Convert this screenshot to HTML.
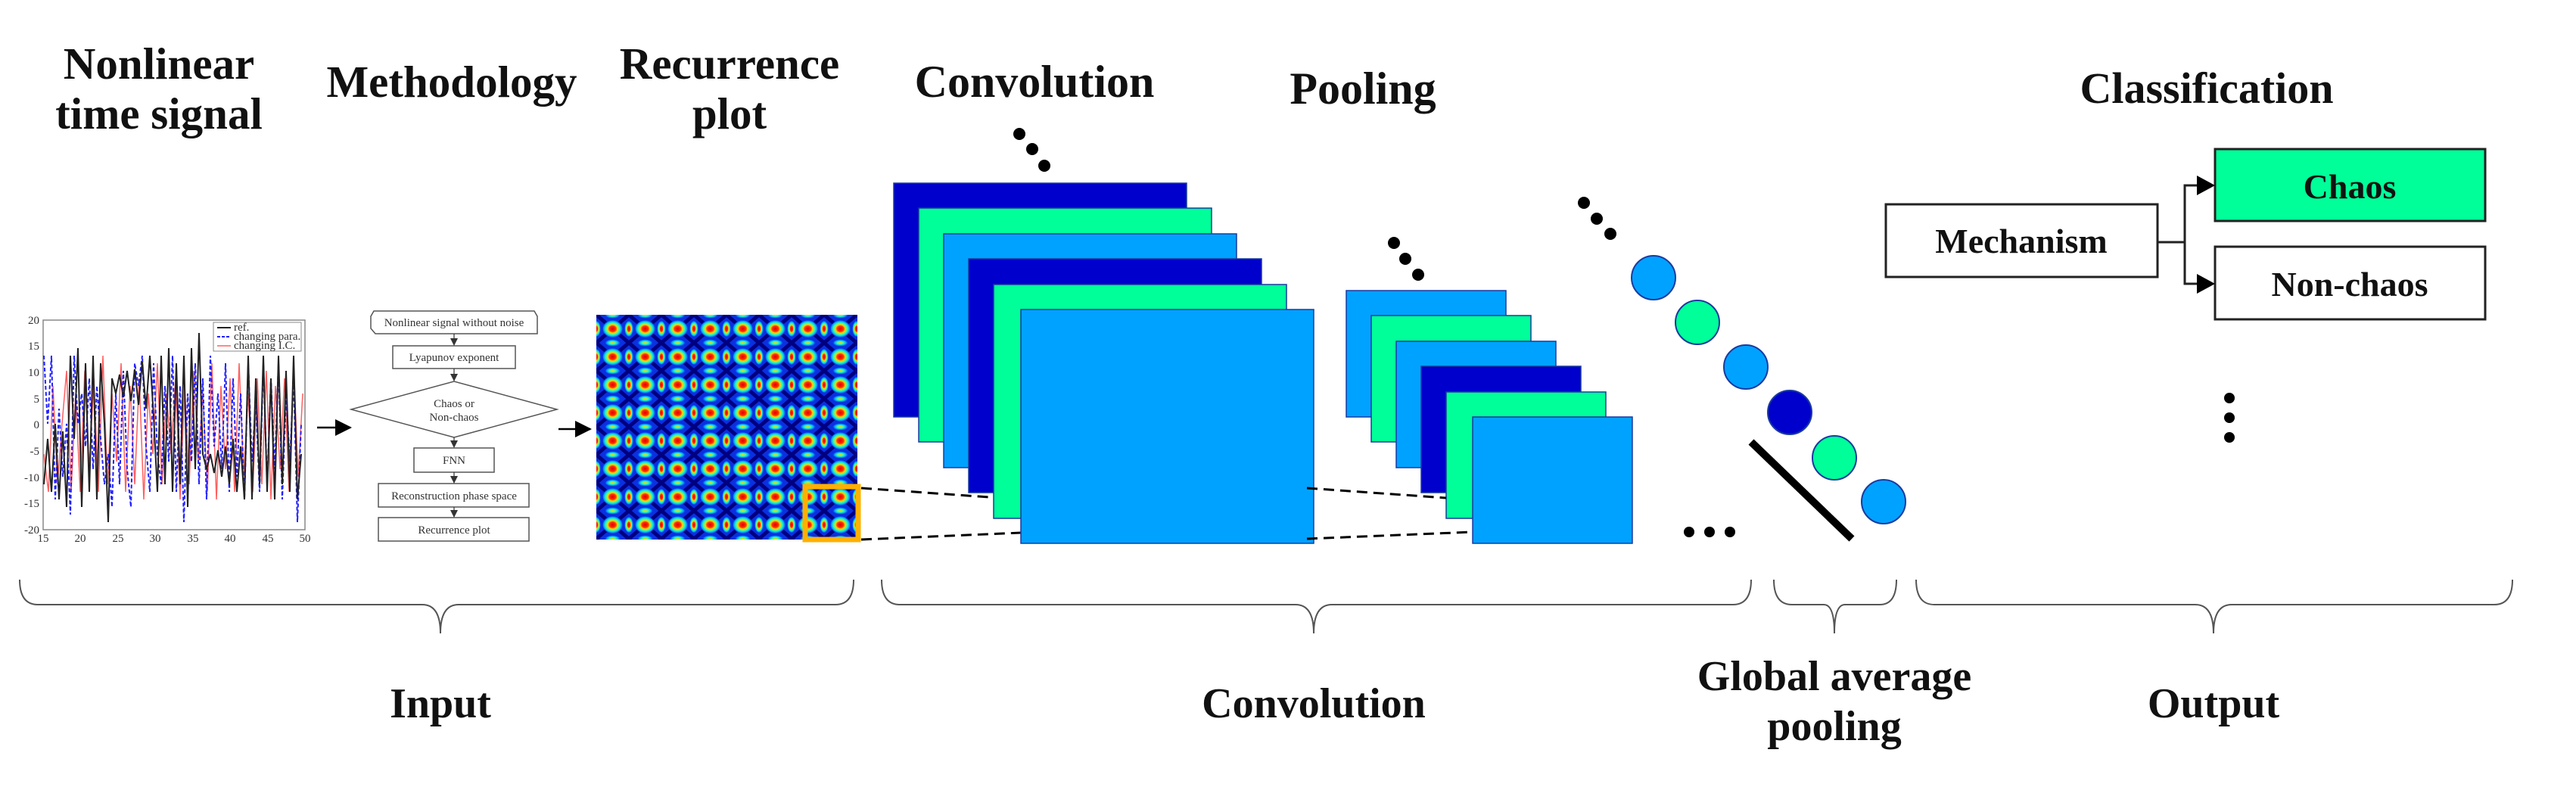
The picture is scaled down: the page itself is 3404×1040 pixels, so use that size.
<!DOCTYPE html>
<html><head><meta charset="utf-8"><style>
html,body{margin:0;padding:0;background:#fff;}
svg{display:block;}
.t{font-family:"Liberation Serif",serif;font-weight:bold;fill:#111;}
.f{font-family:"Liberation Serif",serif;fill:#333;font-size:15px;}
</style></head><body>
<svg width="3404" height="1040" viewBox="0 0 3404 1040" xmlns="http://www.w3.org/2000/svg">
<defs>
<radialGradient id="blob">
<stop offset="0" stop-color="#e00000"/>
<stop offset="0.3" stop-color="#ff3000"/>
<stop offset="0.45" stop-color="#ffd000"/>
<stop offset="0.65" stop-color="#30ffb0"/>
<stop offset="0.85" stop-color="#00a0ff"/>
<stop offset="1" stop-color="#0030e0" stop-opacity="0"/>
</radialGradient>
<radialGradient id="blob2">
<stop offset="0" stop-color="#ffd000"/>
<stop offset="0.35" stop-color="#40ffa0"/>
<stop offset="0.7" stop-color="#00a0ff"/>
<stop offset="1" stop-color="#0030e0" stop-opacity="0"/>
</radialGradient>
<pattern id="rp" x="788" y="416" width="43" height="37" patternUnits="userSpaceOnUse">
<rect width="43" height="37" fill="#0a30e0"/>
<path d="M0 0 L43 37 M43 0 L0 37" stroke="#000080" stroke-width="5"/>
<ellipse cx="21.5" cy="18.5" rx="14" ry="12" fill="url(#blob)"/>
<ellipse cx="0" cy="18.5" rx="6" ry="11" fill="url(#blob)"/>
<ellipse cx="43" cy="18.5" rx="6" ry="11" fill="url(#blob)"/>
<ellipse cx="21.5" cy="0" rx="11" ry="5" fill="url(#blob2)"/>
<ellipse cx="21.5" cy="37" rx="11" ry="5" fill="url(#blob2)"/>
</pattern>
<marker id="ar" markerWidth="10" markerHeight="10" refX="9" refY="5" orient="auto" markerUnits="userSpaceOnUse"><path d="M0 0 L10 5 L0 10 z" fill="#333"/></marker>
<marker id="ar2" markerWidth="22" markerHeight="22" refX="20" refY="11" orient="auto" markerUnits="userSpaceOnUse"><path d="M0 0 L22 11 L0 22 z" fill="#000"/></marker>
</defs>

<text class="t" x="210" y="104" font-size="59" text-anchor="middle">Nonlinear</text>
<text class="t" x="210" y="170" font-size="59" text-anchor="middle">time signal</text>
<text class="t" x="597" y="128" font-size="59" text-anchor="middle">Methodology</text>
<text class="t" x="964" y="104" font-size="59" text-anchor="middle">Recurrence</text>
<text class="t" x="964" y="170" font-size="59" text-anchor="middle">plot</text>
<text class="t" x="1367" y="128" font-size="60" text-anchor="middle">Convolution</text>
<text class="t" x="1801" y="137" font-size="60" text-anchor="middle">Pooling</text>
<text class="t" x="2916" y="136" font-size="58" text-anchor="middle">Classification</text>

<g>
<rect x="57" y="423" width="346" height="277" fill="#fff" stroke="#888" stroke-width="1.5"/>
<g class="f" font-size="13" text-anchor="end" fill="#444">
<text x="52" y="428">20</text><text x="52" y="462">15</text><text x="52" y="497">10</text><text x="52" y="532">5</text><text x="52" y="566">0</text><text x="52" y="601">-5</text><text x="52" y="636">-10</text><text x="52" y="670">-15</text><text x="52" y="705">-20</text>
</g>
<g class="f" font-size="13" text-anchor="middle" fill="#444">
<text x="57" y="716">15</text><text x="106" y="716">20</text><text x="156" y="716">25</text><text x="205" y="716">30</text><text x="255" y="716">35</text><text x="304" y="716">40</text><text x="354" y="716">45</text><text x="403" y="716">50</text>
</g>
<polyline fill="none" stroke="#ff6060" stroke-width="1.5" points="58,600 64,650 70,510 76,640 82,560 88,490 94,650 100,520 106,650 112,490 118,620 124,500 130,650 136,470 142,640 148,520 154,610 160,480 166,650 172,510 178,640 184,500 190,660 196,520 202,600 208,480 214,640 220,520 226,600 232,500 238,660 244,510 250,640 256,490 262,610 268,520 274,650 280,480 286,660 292,510 298,620 304,500 310,650 316,480 322,630 328,520 334,650 340,500 346,640 352,490 358,660 364,510 370,620 376,500 382,650 388,480 394,630 400,520"/>
<polyline fill="none" stroke="#2020ff" stroke-width="2" stroke-dasharray="5,3" points="58,470 63,560 68,470 73,660 78,540 83,630 88,560 93,680 98,470 103,560 108,520 113,590 118,500 123,620 128,510 133,580 138,640 143,600 148,670 153,520 158,640 163,490 168,620 173,670 178,480 183,510 188,470 193,590 198,650 203,480 208,600 213,640 218,510 223,610 228,470 233,650 238,510 243,690 248,520 253,610 258,480 263,640 268,500 273,660 278,470 283,590 288,520 293,620 298,480 303,650 308,500 313,630 318,520 323,660 328,480 333,610 338,530 343,650 348,480 353,640 358,500 363,620 368,480 373,660 378,520 383,610 388,500 393,690 398,560"/>
<polyline fill="none" stroke="#222" stroke-width="2" points="58,640 63,580 68,650 73,560 78,660 83,570 88,670 93,470 98,580 103,460 108,670 113,480 118,650 123,470 128,660 133,480 138,560 143,690 148,500 153,520 158,495 163,525 168,490 173,530 178,488 183,535 188,478 193,540 198,470 203,550 208,650 213,470 218,640 223,460 228,650 233,480 238,640 243,470 248,670 253,460 258,620 263,440 268,600 273,620 278,600 283,625 288,595 293,630 298,590 303,640 308,580 313,650 318,590 323,660 328,470 333,660 338,500 343,640 348,470 353,650 358,500 363,660 368,470 373,640 378,490 383,650 388,470 393,660 398,600"/>
<rect x="282" y="426" width="116" height="38" fill="#fff" stroke="#888" stroke-width="1"/>
<line x1="287" y1="433" x2="305" y2="433" stroke="#222" stroke-width="2"/>
<line x1="287" y1="445" x2="305" y2="445" stroke="#2020ff" stroke-width="2" stroke-dasharray="4,2"/>
<line x1="287" y1="457" x2="305" y2="457" stroke="#ff6060" stroke-width="1.5"/>
<g class="f" font-size="11" fill="#555"><text x="309" y="437">ref.</text><text x="309" y="449">changing para.</text><text x="309" y="461">changing I.C.</text></g>
</g>

<line x1="419" y1="565" x2="463" y2="565" stroke="#000" stroke-width="2.5" marker-end="url(#ar2)"/>
<line x1="738" y1="567" x2="780" y2="567" stroke="#000" stroke-width="2.5" marker-end="url(#ar2)"/>

<g fill="#fff" stroke="#555" stroke-width="1.5">
<path d="M494 411 H706 L710 418 V441 H496 L490 434 V418 Z"/>
<rect x="519" y="457" width="162" height="30"/>
<path d="M464 541 L600 504 L736 541 L600 578 Z"/>
<rect x="547" y="592" width="106" height="32"/>
<rect x="500" y="639" width="199" height="31"/>
<rect x="500" y="684" width="199" height="31"/>
</g>
<g stroke="#333" stroke-width="1.2">
<line x1="600" y1="441" x2="600" y2="456" marker-end="url(#ar)"/>
<line x1="600" y1="487" x2="600" y2="503" marker-end="url(#ar)"/>
<line x1="600" y1="578" x2="600" y2="591" marker-end="url(#ar)"/>
<line x1="600" y1="624" x2="600" y2="638" marker-end="url(#ar)"/>
<line x1="600" y1="670" x2="600" y2="683" marker-end="url(#ar)"/>
</g>
<g class="f" text-anchor="middle">
<text x="600" y="431">Nonlinear signal without noise</text>
<text x="600" y="477">Lyapunov exponent</text>
<text x="600" y="538">Chaos or</text>
<text x="600" y="556">Non-chaos</text>
<text x="600" y="613">FNN</text>
<text x="600" y="660">Reconstruction phase space</text>
<text x="600" y="705">Recurrence plot</text>
</g>

<rect x="788" y="416" width="345" height="297" fill="url(#rp)"/>
<rect x="1064" y="643" width="70" height="70" fill="none" stroke="#ffb000" stroke-width="7"/>

<g stroke="#000" stroke-width="3" stroke-dasharray="14,8">
<line x1="1138" y1="645" x2="1349" y2="660"/>
<line x1="1138" y1="713" x2="1349" y2="704"/>
</g>

<g stroke="#1a3aa0" stroke-width="1.5">
<rect x="1181" y="242" width="387" height="309" fill="#0000cc"/>
<rect x="1214" y="275" width="387" height="309" fill="#00ff99"/>
<rect x="1247" y="309" width="387" height="309" fill="#00a2ff"/>
<rect x="1280" y="342" width="387" height="309" fill="#0000cc"/>
<rect x="1313" y="376" width="387" height="309" fill="#00ff99"/>
<rect x="1349" y="409" width="387" height="309" fill="#00a2ff"/>
</g>
<g stroke="#1a3aa0" stroke-width="1.5">
<rect x="1779" y="384" width="211" height="167" fill="#00a2ff"/>
<rect x="1812" y="417" width="211" height="167" fill="#00ff99"/>
<rect x="1845" y="451" width="211" height="167" fill="#00a2ff"/>
<rect x="1878" y="484" width="211" height="167" fill="#0000cc"/>
<rect x="1911" y="518" width="211" height="167" fill="#00ff99"/>
<rect x="1946" y="551" width="211" height="167" fill="#00a2ff"/>
</g>
<g stroke="#000" stroke-width="3" stroke-dasharray="14,8">
<line x1="1727" y1="645" x2="1911" y2="658"/>
<line x1="1727" y1="712" x2="1946" y2="703"/>
</g>

<g fill="#000">
<circle cx="1347" cy="177" r="8"/><circle cx="1364" cy="197" r="8"/><circle cx="1380" cy="219" r="8"/>
<circle cx="1842" cy="321" r="8"/><circle cx="1857" cy="342" r="8"/><circle cx="1874" cy="363" r="8"/>
<circle cx="2093" cy="268" r="8"/><circle cx="2110" cy="289" r="8"/><circle cx="2128" cy="309" r="8"/>
<circle cx="2232" cy="703" r="7"/><circle cx="2259" cy="703" r="7"/><circle cx="2286" cy="703" r="7"/>
<circle cx="2946" cy="526" r="7"/><circle cx="2946" cy="552" r="7"/><circle cx="2946" cy="578" r="7"/>
</g>

<g stroke="#1a3aa0" stroke-width="2">
<circle cx="2185" cy="367" r="29" fill="#00a2ff"/>
<circle cx="2243" cy="426" r="29" fill="#00ff99"/>
<circle cx="2307" cy="485" r="29" fill="#00a2ff"/>
<circle cx="2365" cy="545" r="29" fill="#0000cc"/>
<circle cx="2424" cy="605" r="29" fill="#00ff99"/>
<circle cx="2489" cy="663" r="29" fill="#00a2ff"/>
</g>
<line x1="2314" y1="584" x2="2447" y2="712" stroke="#000" stroke-width="10"/>

<g stroke="#222" stroke-width="3">
<rect x="2492" y="270" width="359" height="96" fill="#fff"/>
<rect x="2927" y="197" width="357" height="95" fill="#00ff99"/>
<rect x="2927" y="326" width="357" height="96" fill="#fff"/>
<polyline fill="none" points="2851,320 2887,320"/>
<polyline fill="none" points="2905,245 2887,245 2887,375 2905,375"/>
</g>
<path d="M2903 232 L2927 245 L2903 258 Z M2903 362 L2927 375 L2903 388 Z" fill="#000"/>
<text class="t" x="2671" y="334" font-size="46" text-anchor="middle">Mechanism</text>
<text class="t" x="3105" y="262" font-size="46" text-anchor="middle">Chaos</text>
<text class="t" x="3105" y="391" font-size="46" text-anchor="middle">Non-chaos</text>

<g fill="none" stroke="#555" stroke-width="2">
<path d="M26 766 Q26 799 50 799 H558 Q582 799 582 837 Q582 799 606 799 H1104 Q1128 799 1128 766"/>
<path d="M1165 766 Q1165 799 1189 799 H1712 Q1736 799 1736 837 Q1736 799 1760 799 H2290 Q2314 799 2314 766"/>
<path d="M2344 766 Q2344 799 2368 799 H2410 Q2424 799 2424 837 Q2424 799 2438 799 H2484 Q2506 799 2506 766"/>
<path d="M2532 766 Q2532 799 2556 799 H2901 Q2925 799 2925 837 Q2925 799 2949 799 H3296 Q3320 799 3320 766"/>
</g>

<text class="t" x="582" y="948" font-size="56" text-anchor="middle">Input</text>
<text class="t" x="1736" y="948" font-size="56" text-anchor="middle">Convolution</text>
<text class="t" x="2424" y="912" font-size="56" text-anchor="middle">Global average</text>
<text class="t" x="2424" y="978" font-size="56" text-anchor="middle">pooling</text>
<text class="t" x="2925" y="948" font-size="56" text-anchor="middle">Output</text>
</svg>
</body></html>
